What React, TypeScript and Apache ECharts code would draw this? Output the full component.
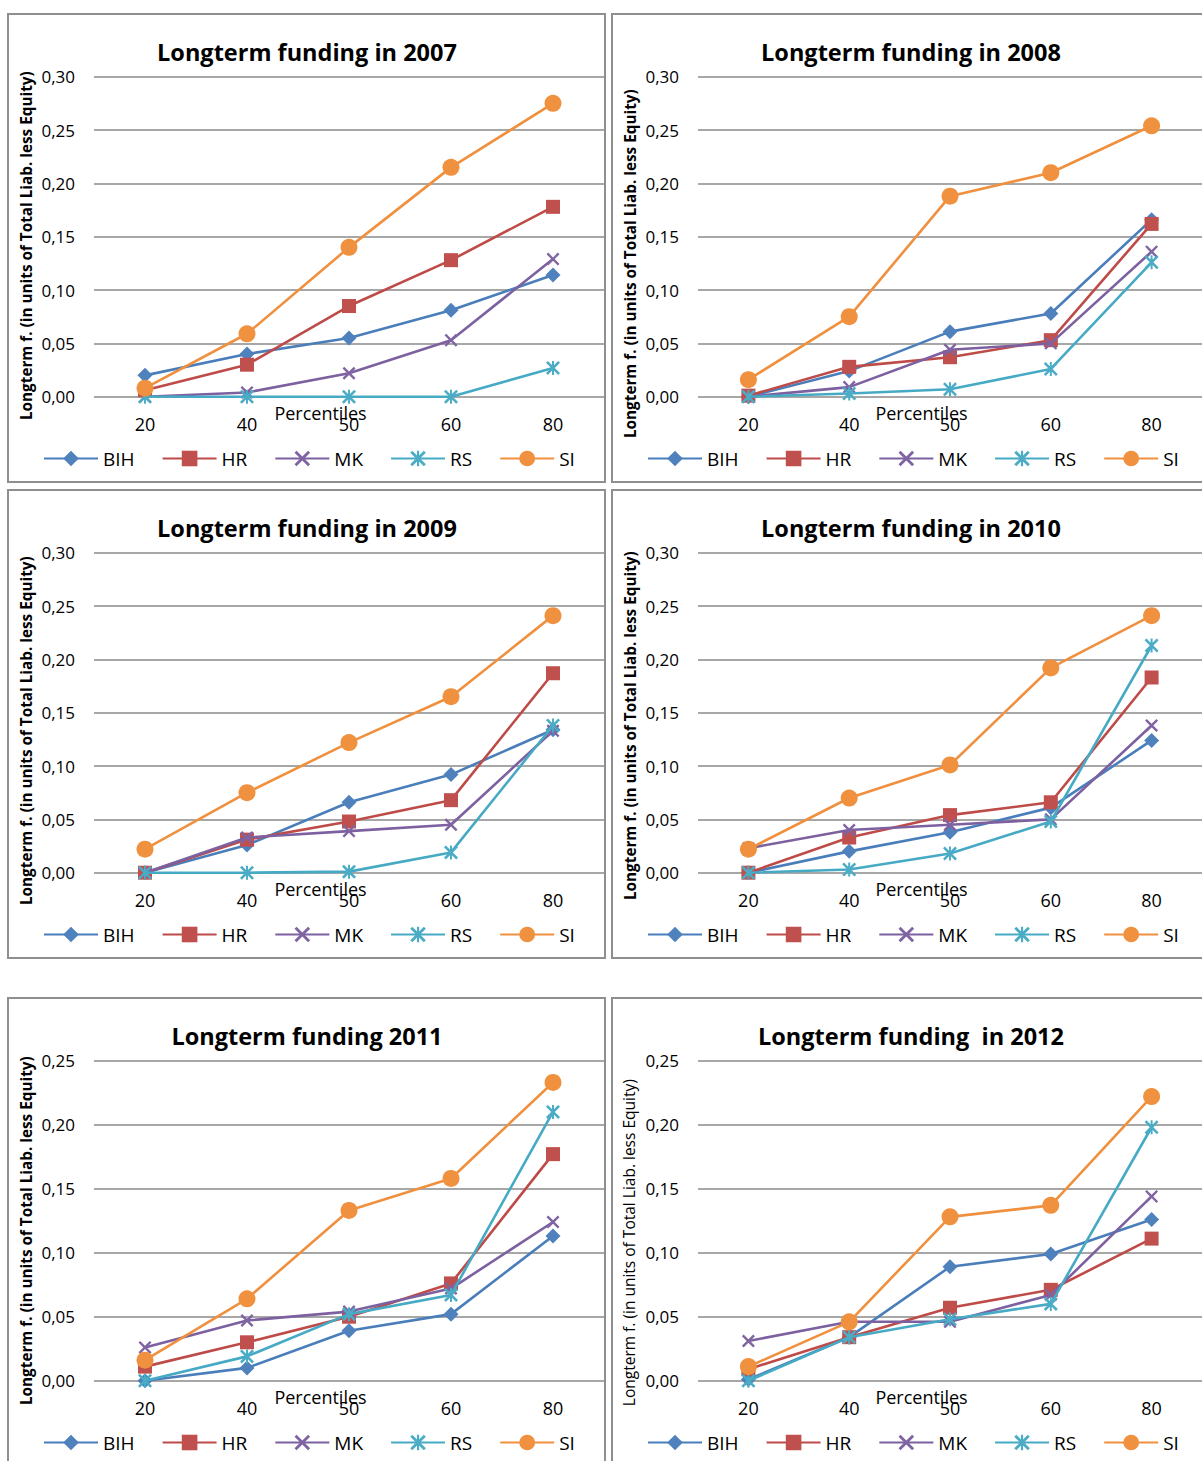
import React, { useEffect, useRef } from 'react';
import * as echarts from 'echarts';

// ---------- data ----------
const percentiles = ['20', '40', '50', '60', '80'];
const countries = ['BIH', 'HR', 'MK', 'RS', 'SI'];

// rows in country order: BIH, HR, MK, RS, SI
const values2007 = [
  [0.020, 0.040, 0.055, 0.081, 0.114],
  [0.006, 0.030, 0.085, 0.128, 0.178],
  [0.000, 0.004, 0.022, 0.053, 0.129],
  [0.000, 0.000, 0.000, 0.000, 0.027],
  [0.008, 0.059, 0.140, 0.215, 0.275],
];
const values2008 = [
  [0.000, 0.024, 0.061, 0.078, 0.166],
  [0.001, 0.028, 0.037, 0.053, 0.162],
  [0.000, 0.009, 0.044, 0.050, 0.136],
  [0.000, 0.003, 0.007, 0.026, 0.126],
  [0.016, 0.075, 0.188, 0.210, 0.254],
];
const values2009 = [
  [0.000, 0.026, 0.066, 0.092, 0.134],
  [0.000, 0.031, 0.048, 0.068, 0.187],
  [0.000, 0.033, 0.039, 0.045, 0.133],
  [0.000, 0.000, 0.001, 0.019, 0.138],
  [0.022, 0.075, 0.122, 0.165, 0.241],
];
const values2010 = [
  [0.000, 0.020, 0.038, 0.061, 0.124],
  [0.000, 0.033, 0.054, 0.066, 0.183],
  [0.023, 0.040, 0.045, 0.050, 0.138],
  [0.000, 0.003, 0.018, 0.048, 0.213],
  [0.022, 0.070, 0.101, 0.192, 0.241],
];
const values2011 = [
  [0.000, 0.010, 0.039, 0.052, 0.113],
  [0.011, 0.030, 0.050, 0.076, 0.177],
  [0.026, 0.047, 0.054, 0.072, 0.124],
  [0.000, 0.019, 0.052, 0.067, 0.210],
  [0.016, 0.064, 0.133, 0.158, 0.233],
];
const values2012 = [
  [0.001, 0.034, 0.089, 0.099, 0.126],
  [0.009, 0.034, 0.057, 0.071, 0.111],
  [0.031, 0.046, 0.046, 0.067, 0.144],
  [0.000, 0.034, 0.048, 0.060, 0.198],
  [0.011, 0.046, 0.128, 0.137, 0.222],
];

const panelValues = [values2007, values2008, values2009, values2010, values2011, values2012];
const panelTitles = [
  'Longterm funding in 2007',
  'Longterm funding in 2008',
  'Longterm funding in 2009',
  'Longterm funding in 2010',
  'Longterm funding 2011',
  'Longterm funding  in 2012',
];
const panelYMax = [0.3, 0.3, 0.3, 0.3, 0.25, 0.25];
const yAxisName = 'Longterm f. (in units of Total Liab. less Equity)';
const xAxisName = 'Percentiles';

// ---------- layout & style ----------
const W = 1202;
const H = 1461;
const panelPos: [number, number][] = [
  [8, 14], [612, 14], [8, 490], [612, 490], [8, 998], [612, 998],
];
const panelW = 597;
const panelH = 468;
const yNameBold = [true, true, true, true, true, false];
const yNameShift = [9, 27, 18, 13, 10, 22];

const FONT = "'Open Sans', 'Liberation Sans', sans-serif";

const lineColors = ['#4A7EBB', '#BE4B48', '#7D60A0', '#46AAC5', '#F0903E'];
const markerColors = ['#4F81BD', '#C0504D', '#8064A2', '#4BACC6', '#F0913F'];
const X_PATH =
  'path://M0,1.3L1.3,0L5,3.7L8.7,0L10,1.3L6.3,5L10,8.7L8.7,10L5,6.3L1.3,10L0,8.7L3.7,5Z';
const STAR_PATH =
  'path://M0,1.3L1.3,0L5,3.7L8.7,0L10,1.3L6.3,5L10,8.7L8.7,10L5,6.3L1.3,10L0,8.7L3.7,5Z M4.3,0L5.7,0L5.7,10L4.3,10Z';
const symbols = ['diamond', 'rect', X_PATH, STAR_PATH, 'circle'];
const symbolSizes = [15, 14, 13, 14, 17];

function buildOption() {
  const grid: any[] = [];
  const xAxis: any[] = [];
  const yAxis: any[] = [];
  const legend: any[] = [];
  const series: any[] = [];
  const elements: any[] = [];

  panelPos.forEach(([px, py], i) => {
    elements.push({
      type: 'rect',
      z: 0,
      shape: { x: px, y: py, width: panelW, height: panelH },
      style: { fill: 'none', stroke: '#8F8F8F', lineWidth: 2 },
    });
    elements.push({
      type: 'text',
      z: 10,
      x: px + 299,
      y: py + 38,
      style: {
        text: panelTitles[i],
        align: 'center',
        verticalAlign: 'middle',
        fontFamily: FONT,
        fontSize: 23.5,
        fontWeight: 'bold',
        fill: '#000',
      },
    });

    grid.push({ left: px + 86, top: py + 62.7, width: 510, height: 320 });

    xAxis.push({
      type: 'category',
      gridIndex: i,
      data: percentiles,
      boundaryGap: true,
      axisLine: { show: false },
      axisTick: { show: false },
      axisLabel: { margin: 18, fontFamily: FONT, fontSize: 18, color: '#000' },
      name: xAxisName,
      nameLocation: 'middle',
      nameGap: 7,
      nameMoveOverlap: false,
      nameTextStyle: {
        fontFamily: FONT,
        fontSize: 18,
        color: '#000',
        padding: [0, 57, 0, 0],
      },
    });

    yAxis.push({
      type: 'value',
      gridIndex: i,
      min: 0,
      max: panelYMax[i],
      interval: 0.05,
      axisLine: { show: false },
      axisTick: { show: false },
      axisLabel: {
        margin: 19,
        fontFamily: FONT,
        fontSize: 17,
        color: '#000',
        formatter: (v: number) => v.toFixed(2).replace('.', ','),
      },
      splitLine: { lineStyle: { color: '#8A8A8A', width: 1.5 } },
      name: yAxisName,
      nameLocation: 'middle',
      nameGap: 61,
      nameMoveOverlap: false,
      nameRotate: 90,
      nameTextStyle: {
        fontFamily: FONT,
        fontSize: yNameBold[i] ? 15.3 : 15.5,
        fontWeight: yNameBold[i] ? 'bold' : 'normal',
        color: '#000',
        padding: [0, yNameShift[i] * 2, 0, 0],
      },
    });

    legend.push({
      data: countries,
      left: px + 35,
      top: py + 435,
      padding: 0,
      itemWidth: 54,
      itemHeight: 19.5,
      itemGap: 27,
      selectedMode: false,
      textStyle: { fontFamily: FONT, fontSize: 19, color: '#000' },
    });

    countries.forEach((c, k) => {
      series.push({
        type: 'line',
        name: c,
        xAxisIndex: i,
        yAxisIndex: i,
        data: panelValues[i][k],
        symbol: symbols[k],
        symbolSize: symbolSizes[k],
        showAllSymbol: true,
        lineStyle: { color: lineColors[k], width: 2.6 },
        itemStyle: { color: markerColors[k] },
        z: 2 + k * 0.01,
      });
    });
  });

  return {
    animation: false,
    backgroundColor: '#ffffff',
    graphic: { elements },
    grid,
    xAxis,
    yAxis,
    legend,
    series,
  };
}

export default function App() {
  const ref = useRef<HTMLDivElement>(null);
  useEffect(() => {
    if (!ref.current) return;
    const chart = echarts.init(ref.current, undefined, { renderer: 'svg' });
    chart.setOption(buildOption() as any);
    return () => chart.dispose();
  }, []);
  return (
    <div
      ref={ref}
      style={{ position: 'absolute', left: 0, top: 0, width: W, height: H, background: '#fff' }}
    />
  );
}
